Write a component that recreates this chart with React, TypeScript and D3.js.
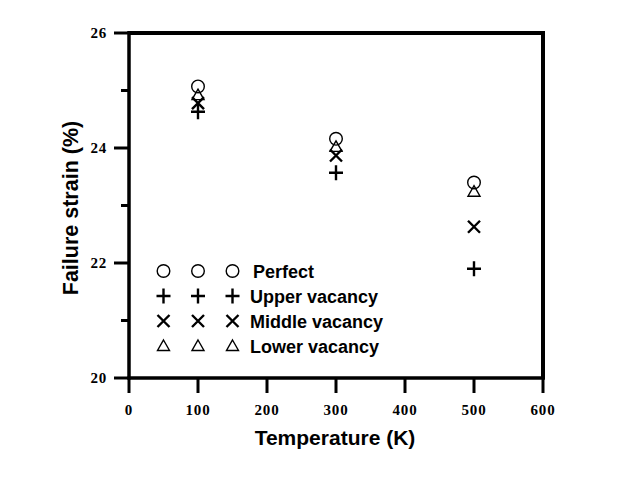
import React from 'react';
import * as d3 from 'd3';

// temperatures (K)
const temps = [100, 300, 500];

// failure strain (%) for each configuration
const perfect = [25.07, 24.16, 23.4];
const upperVacancy = [24.63, 23.57, 21.9];
const middleVacancy = [24.78, 23.87, 22.63];
const lowerVacancy = [24.92, 24.02, 23.24];

const xTicks = [0, 100, 200, 300, 400, 500, 600];
const yMajor = [20, 22, 24, 26];
const yMinor = [21, 23, 25];

const seriesNames = ['Perfect', 'Upper vacancy', 'Middle vacancy', 'Lower vacancy'];
const seriesKinds = ['circle', 'plus', 'cross', 'triangle'];
const seriesValues = [perfect, upperVacancy, middleVacancy, lowerVacancy];
const legendX = [50, 100, 150]; // legend symbol positions in data units (x axis)

const Marker = ({ kind, x, y }: { kind: string; x: number; y: number }) => {
  if (kind === 'circle') {
    return <circle cx={x} cy={y} r={6.3} fill="none" stroke="#000" strokeWidth={1.4} />;
  }
  if (kind === 'plus') {
    const p = d3.path();
    p.moveTo(x - 7, y);
    p.lineTo(x + 7, y);
    p.moveTo(x, y - 7.5);
    p.lineTo(x, y + 7.5);
    return <path d={p.toString()} stroke="#000" strokeWidth={2.4} fill="none" />;
  }
  if (kind === 'cross') {
    const p = d3.path();
    p.moveTo(x - 6, y - 6);
    p.lineTo(x + 6, y + 6);
    p.moveTo(x - 6, y + 6);
    p.lineTo(x + 6, y - 6);
    return <path d={p.toString()} stroke="#000" strokeWidth={2.4} fill="none" />;
  }
  const p = d3.path();
  p.moveTo(x, y - 6);
  p.lineTo(x + 6, y + 4.5);
  p.lineTo(x - 6, y + 4.5);
  p.closePath();
  return <path d={p.toString()} stroke="#000" strokeWidth={1.4} fill="none" />;
};

const App = () => {
  const left = 129;
  const right = 543;
  const top = 33;
  const bottom = 378;

  const x = d3.scaleLinear().domain([0, 600]).range([left, right]);
  const y = d3.scaleLinear().domain([20, 26]).range([bottom, top]);

  const legendRows = [271, 296, 321, 346];
  const sans = "'Liberation Sans', Arial, sans-serif";
  const serif = "'Liberation Serif', 'Times New Roman', serif";

  return (
    <svg
      width={632}
      height={485}
      style={{ position: 'absolute', left: 0, top: 0, background: '#fff' }}
    >
      {/* frame */}
      <line x1={left} y1={top} x2={right + 2} y2={top} stroke="#000" strokeWidth={4} />
      <line x1={right} y1={top} x2={right} y2={bottom} stroke="#000" strokeWidth={4} />
      <line x1={left} y1={top - 2} x2={left} y2={bottom + 1.5} stroke="#000" strokeWidth={3.5} />
      <line x1={left - 1.5} y1={bottom} x2={right + 2} y2={bottom} stroke="#000" strokeWidth={3.5} />

      {/* y ticks */}
      {yMajor.map((v) => (
        <g key={'ym' + v}>
          <line x1={left - 15} x2={left} y1={y(v)} y2={y(v)} stroke="#000" strokeWidth={3} />
          <text
            x={left - 22}
            y={y(v) + 5}
            textAnchor="end"
            fontFamily={serif}
            fontWeight="bold"
            fontSize={15}
            letterSpacing={0.8}
          >
            {v}
          </text>
        </g>
      ))}
      {yMinor.map((v) => (
        <line key={'yn' + v} x1={left - 8} x2={left} y1={y(v)} y2={y(v)} stroke="#000" strokeWidth={3} />
      ))}

      {/* x ticks */}
      {xTicks.map((v) => (
        <g key={'x' + v}>
          <line x1={x(v)} x2={x(v)} y1={bottom} y2={bottom + 15} stroke="#000" strokeWidth={3} />
          <text
            x={x(v)}
            y={bottom + 37}
            textAnchor="middle"
            fontFamily={serif}
            fontWeight="bold"
            fontSize={15}
            letterSpacing={0.8}
          >
            {v}
          </text>
        </g>
      ))}

      {/* data */}
      {seriesValues.map((vals, si) =>
        vals.map((v, i) => (
          <Marker key={si + '-' + i} kind={seriesKinds[si]} x={x(temps[i])} y={y(v)} />
        ))
      )}

      {/* legend */}
      {seriesNames.map((name, si) => (
        <g key={'lg' + si}>
          {legendX.map((lx) => (
            <Marker key={lx} kind={seriesKinds[si]} x={x(lx)} y={legendRows[si]} />
          ))}
          <text
            x={si === 0 ? 253 : 250}
            y={legendRows[si] + 6.5}
            fontFamily={sans}
            fontWeight="bold"
            fontSize={18}
          >
            {name}
          </text>
        </g>
      ))}

      {/* axis titles */}
      <text
        x={335}
        y={445}
        textAnchor="middle"
        fontFamily={sans}
        fontWeight="bold"
        fontSize={21}
      >
        Temperature (K)
      </text>
      <text
        transform={`translate(78, ${208}) rotate(-90)`}
        textAnchor="middle"
        fontFamily={sans}
        fontWeight="bold"
        fontSize={21.5}
      >
        Failure strain (%)
      </text>
    </svg>
  );
};

export default App;
